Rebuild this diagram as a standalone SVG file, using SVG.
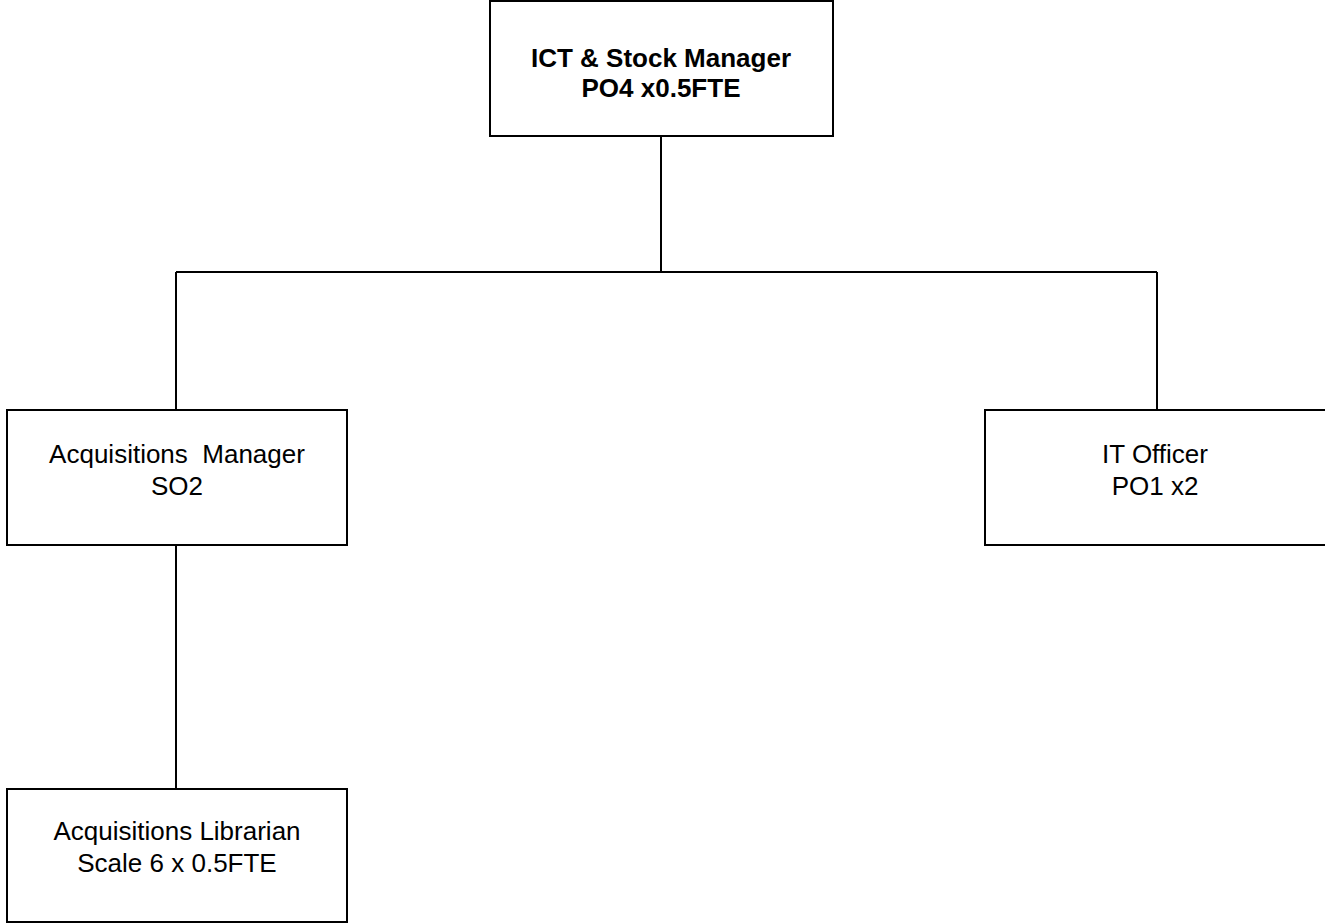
<svg xmlns="http://www.w3.org/2000/svg" width="1325" height="924" viewBox="0 0 1325 924">
<style>
.box{fill:#fff;stroke:#000;stroke-width:2}
.con{fill:none;stroke:#000;stroke-width:2}
text{font-family:"Liberation Sans",Arial,sans-serif;font-size:26px;fill:#000;text-anchor:middle}
.b{font-weight:bold}
</style>
<rect width="1325" height="924" fill="#fff"/>
<g id="connectors">
<path class="con" d="M661 137V272M176 272H1157M176 272V410M1157 272V410M176 545V789"/>
</g>
<g id="n-ict">
<rect class="box" x="490" y="1" width="343" height="135"/>
<text class="b" x="661" y="67">ICT &amp; Stock Manager</text>
<text class="b" x="661" y="97">PO4 x0.5FTE</text>
</g>
<g id="n-acqmgr">
<rect class="box" x="7" y="410" width="340" height="135"/>
<text x="177" y="463" xml:space="preserve">Acquisitions  Manager</text>
<text x="177" y="495">SO2</text>
</g>
<g id="n-it">
<rect class="box" x="985" y="410" width="345" height="135"/>
<text x="1155" y="463">IT Officer</text>
<text x="1155" y="495">PO1 x2</text>
</g>
<g id="n-acqlib">
<rect class="box" x="7" y="789" width="340" height="133"/>
<text x="177" y="840">Acquisitions Librarian</text>
<text x="177" y="872">Scale 6 x 0.5FTE</text>
</g>
</svg>
